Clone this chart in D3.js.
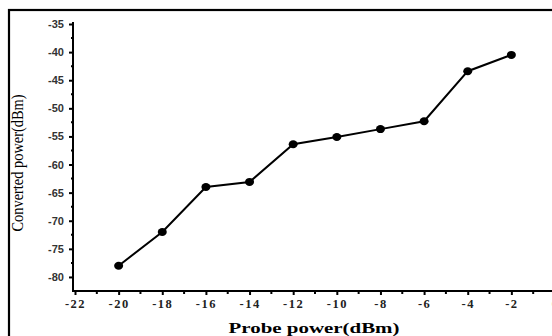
<!DOCTYPE html>
<html>
<head>
<meta charset="utf-8">
<script src="https://cdn.jsdelivr.net/npm/d3@7"></script>
<style>
  body { margin: 0; background: #fff; }
  svg { display: block; }
</style>
</head>
<body>
<svg id="chart" width="552" height="336"></svg>
<script>
// probe power values and the measured converted power
var probePower = [-20, -18, -16, -14, -12, -10, -8, -6, -4, -2];
var convertedPower = [-78, -72, -64, -63.1, -56.4, -55.1, -53.7, -52.3, -43.4, -40.5];
var xTicks = [-22, -20, -18, -16, -14, -12, -10, -8, -6, -4, -2, 0];
var yTicks = [-35, -40, -45, -50, -55, -60, -65, -70, -75, -80];

var svg = d3.select("#chart");

// image frame round the figure
svg.append("rect")
  .attr("x", 9).attr("y", 10)
  .attr("width", 560).attr("height", 340)
  .attr("fill", "none")
  .attr("stroke", "#000")
  .attr("stroke-width", 2.2);

var x = d3.scaleLinear().domain([-22, 0]).range([75, 555]);
var y = d3.scaleLinear().domain([-82.5, -35]).range([291, 24]);

// minor ticks sit half way between the labelled ones
var xMinor = d3.range(-21, 0, 2);
var yMinor = d3.range(-37.5, -82.5, -5);

var xAxis = d3.axisBottom(x).tickValues(xTicks).tickSize(4).tickSizeOuter(0)
  .tickFormat(function(d) { return String(d); });
var yAxis = d3.axisLeft(y).tickValues(yTicks).tickSize(4).tickSizeOuter(0)
  .tickFormat(function(d) { return String(d); });

var gx = svg.append("g")
  .attr("transform", "translate(0," + 291 + ")")
  .call(xAxis);
gx.select(".domain").attr("d", "M73,0H552").attr("stroke-width", 2);
gx.selectAll(".tick line").attr("stroke-width", 2);
gx.selectAll(".tick text")
  .attr("y", 8)
  .style("font-family", "'Liberation Serif', serif")
  .style("font-weight", "bold")
  .style("font-size", "12.5px")
  .style("letter-spacing", "1.5px")
  .attr("fill", "#222");

gx.selectAll(".minor")
  .data(xMinor)
  .enter().append("line")
    .attr("x1", d => x(d)).attr("x2", d => x(d))
    .attr("y1", 0).attr("y2", 3)
    .attr("stroke", "#000").attr("stroke-width", 2);

var gy = svg.append("g")
  .attr("transform", "translate(" + 73 + ",0)")
  .call(yAxis);
gy.select(".domain").attr("d", "M0,22V292").attr("stroke-width", 2);
gy.selectAll(".tick line").attr("stroke-width", 2);
gy.selectAll(".tick text")
  .attr("x", -9)
  .style("font-family", "'Liberation Sans', Arial, sans-serif")
  .style("font-weight", "bold")
  .style("font-size", "11px")
  .attr("fill", "#333");

gy.selectAll(".minor")
  .data(yMinor)
  .enter().append("line")
    .attr("x1", -2).attr("x2", 0)
    .attr("y1", d => y(d)).attr("y2", d => y(d))
    .attr("stroke", "#000").attr("stroke-width", 2);

// the data line
var pts = probePower.map((p, i) => [p, convertedPower[i]]);

svg.append("path")
  .datum(pts)
  .attr("fill", "none")
  .attr("stroke", "#000")
  .attr("stroke-width", 2)
  .attr("d", d3.line().x(d => x(d[0])).y(d => y(d[1])));

svg.selectAll(".dot")
  .data(pts)
  .enter().append("ellipse")
    .attr("cx", d => x(d[0]))
    .attr("cy", d => y(d[1]))
    .attr("rx", 4.5).attr("ry", 4)
    .attr("fill", "#000");

// axis titles
svg.append("text")
  .attr("transform", "translate(23,163) rotate(-90)")
  .attr("text-anchor", "middle")
  .style("font-family", "'Liberation Serif', serif")
  .style("font-size", "16px")
  .attr("textLength", 137)
  .attr("lengthAdjust", "spacingAndGlyphs")
  .text("Converted power(dBm)");

svg.append("text")
  .attr("x", 314).attr("y", 333)
  .attr("text-anchor", "middle")
  .style("font-family", "'Liberation Serif', serif")
  .style("font-weight", "bold")
  .style("font-size", "15px")
  .attr("textLength", 171)
  .attr("lengthAdjust", "spacingAndGlyphs")
  .text("Probe power(dBm)");
</script>
</body>
</html>
